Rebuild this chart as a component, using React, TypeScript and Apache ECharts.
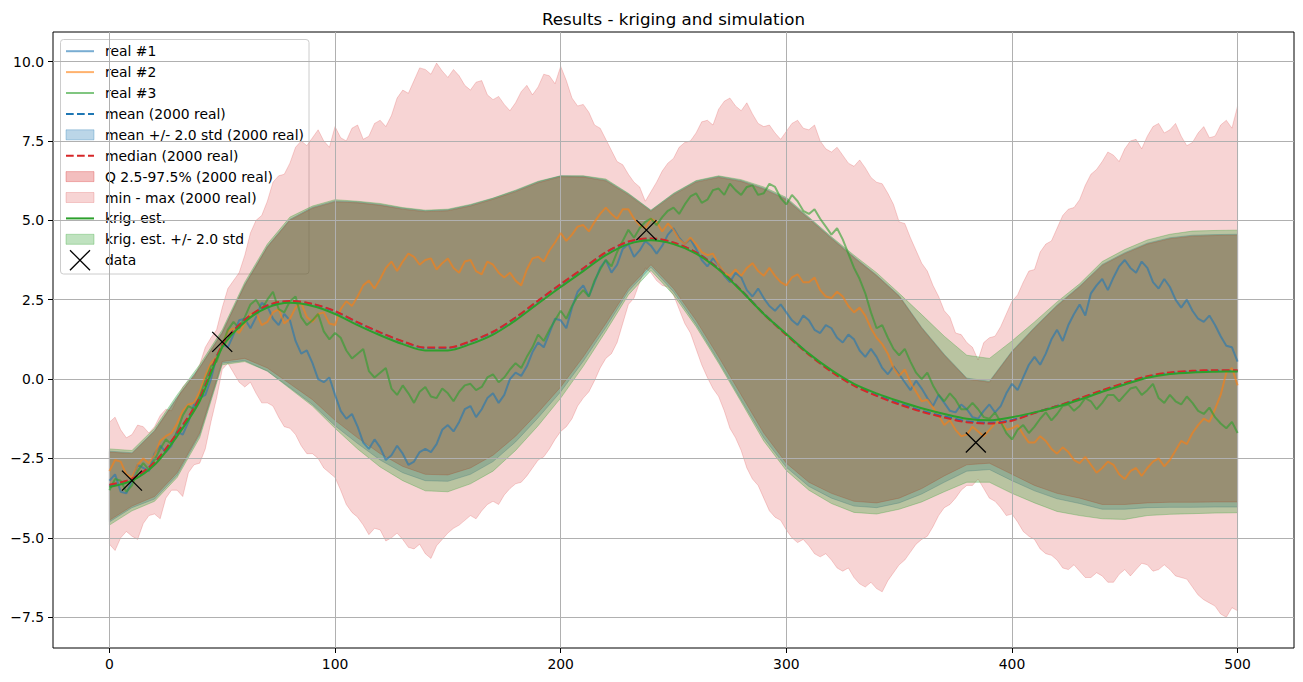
import React, { useEffect, useRef } from 'react';
import * as echarts from 'echarts';

// ---------- data ----------
// sample positions along the 0..500 domain
const xs10 = Array.from({ length: 51 }, (_, i) => i * 10);
const xs2 = Array.from({ length: 201 }, (_, i) => i * 2.5);

const xTicks = [0, 100, 200, 300, 400, 500];
const yTicks = [-7.5, -5, -2.5, 0, 2.5, 5, 7.5, 10];

// realizations: values at x = 0,5,...,500 and at x = 2.5,7.5,...,497.5
const real1 = [-3.2,-3.55,-3.2,-2.8,-2.35,-2.3,-1.65,-1.35,-0.6,0.0,
  1.1,1.4,1.9,1.95,2.3,1.7,1.85,0.8,0.5,-0.1,
  -0.5,-1.25,-1.5,-2.2,-2.15,-2.4,-2.35,-2.6,-2.2,-2.05,
  -1.45,-1.35,-0.85,-0.95,-0.45,-0.5,0.2,0.4,1.15,1.45,
  1.85,2.25,2.95,3.05,3.75,3.6,4.25,4.05,4.2,4.2,
  4.75,4.25,4.1,3.55,3.6,3.05,3.2,2.6,2.55,2.15,
  2.1,1.7,1.85,1.45,1.6,1.15,1.25,0.7,0.7,0.15,
  0.15,-0.35,-0.3,-0.85,-0.75,-1.05,-0.95,-1.25,-0.8,-0.85,
  -0.15,0.05,0.7,0.8,1.55,1.7,2.35,2.7,3.15,3.2,
  3.75,3.35,3.5,2.85,2.9,2.25,2.15,1.8,1.7,1.05,
  0.55];
const real1Mid = [-3.0,-3.6,-2.7,-2.9,-2.1,-2.1,-1.75,-0.8,-0.5,0.7,
  1.0,1.85,1.6,2.4,1.9,2.05,1.2,0.9,0.0,0.05,
  -1.0,-1.1,-2.0,-1.9,-2.55,-2.1,-2.7,-2.3,-2.3,-1.6,
  -1.65,-0.95,-1.2,-0.6,-0.75,0.0,0.1,0.85,1.0,1.9,
  1.6,2.75,2.6,3.5,3.35,4.1,3.85,4.35,3.95,4.55,
  4.45,4.4,3.75,3.8,3.25,3.35,2.8,2.85,2.3,2.35,
  1.85,2.0,1.55,1.7,1.3,1.4,0.9,0.95,0.35,0.4,
  -0.1,-0.05,-0.6,-0.5,-1.0,-0.8,-1.2,-1.0,-1.05,-0.45,
  -0.35,0.45,0.45,1.25,1.2,2.05,2.0,2.95,2.8,3.55,
  3.5,3.7,3.05,3.15,2.5,2.5,1.9,2.0,1.35,1.0];
const real2 = [-2.9,-2.6,-3.1,-2.5,-2.4,-1.8,-1.4,-0.8,-0.4,0.5,
  1.1,1.6,1.75,2.1,1.8,2.2,1.9,2.4,1.8,2.1,
  1.7,2.45,2.6,3.1,3.15,3.7,3.7,3.85,3.75,3.45,
  3.8,3.35,3.75,3.3,3.6,3.2,3.1,3.45,3.85,4.05,
  4.6,4.55,4.85,4.95,5.4,5.05,5.35,4.85,5.05,4.65,
  4.7,4.25,4.25,3.9,3.6,3.25,3.25,3.65,3.25,3.25,
  2.95,3.3,3.05,2.8,2.55,2.6,2.1,2.0,1.3,0.8,
  0.1,-0.1,-0.7,-0.9,-1.45,-1.6,-1.75,-1.65,-1.6,-1.3,
  -1.55,-1.75,-2.0,-1.95,-2.35,-2.3,-2.65,-2.7,-2.8,-2.7,
  -3.15,-2.8,-2.8,-2.5,-2.55,-1.95,-1.7,-1.25,-0.95,0.2,
  -0.2];
const real2Mid = [-2.55,-3.0,-2.7,-2.65,-1.95,-1.7,-1.0,-0.75,0.1,0.7,
  1.5,1.45,2.05,1.7,2.1,1.75,2.25,1.95,2.05,1.75,
  2.2,2.3,2.95,2.85,3.5,3.4,3.95,3.6,3.8,3.65,
  3.5,3.7,3.4,3.7,3.35,3.35,2.95,3.8,3.7,4.3,
  4.35,4.8,4.65,5.2,5.2,5.35,5.05,4.75,4.95,4.9,
  4.4,4.45,4.0,3.95,3.35,3.45,3.5,3.4,3.5,3.05,
  3.2,3.05,3.2,2.6,2.75,2.3,2.25,1.6,1.1,0.35,
  0.3,-0.4,-0.65,-1.15,-1.3,-1.8,-1.5,-1.8,-1.4,-1.6,
  -1.45,-2.0,-1.8,-2.2,-2.15,-2.55,-2.45,-2.95,-2.6,-3.0,
  -2.9,-3.05,-2.6,-2.75,-2.25,-2.05,-1.45,-1.35,-0.5,0.35];
const real3 = [-3.5,-3.2,-3.35,-2.65,-2.55,-1.9,-1.65,-0.85,-0.55,0.4,
  1.05,1.8,1.95,2.5,2.5,2.2,2.45,1.95,1.85,1.5,
  1.45,0.9,0.8,0.25,0.2,-0.3,-0.2,-0.75,-0.25,-0.6,
  -0.45,-0.4,-0.15,-0.25,0.15,0.05,0.5,0.7,1.4,1.55,
  2.15,2.3,2.8,3.1,3.75,4.0,4.7,4.75,5.05,5.1,
  5.4,5.5,5.85,5.65,6.0,6.15,5.8,6.1,5.85,6.05,
  5.5,5.6,5.2,5.05,4.55,4.4,3.5,2.7,1.6,1.3,
  0.75,0.55,0.0,-0.2,-0.7,-0.65,-0.95,-0.95,-1.25,-1.35,
  -1.9,-1.45,-1.5,-1.05,-1.1,-0.8,-0.85,-0.7,-0.75,-0.5,
  -0.5,-0.25,-0.35,-0.6,-0.5,-0.8,-0.75,-1.1,-1.2,-1.55,
  -1.7];
const real3Mid = [-3.15,-3.55,-2.9,-2.85,-2.2,-2.05,-1.15,-0.95,-0.05,0.55,
  1.55,1.6,2.35,2.2,2.75,2.1,2.6,1.7,2.05,1.25,
  1.3,0.65,0.95,0.05,0.35,-0.5,-0.45,-0.4,-0.55,-0.3,
  -0.7,-0.2,-0.35,0.05,-0.1,0.3,0.35,1.0,1.2,1.85,
  1.9,2.6,2.6,3.45,3.55,4.35,4.45,4.95,4.85,5.3,
  5.2,5.75,5.55,5.95,5.8,5.95,6.05,5.8,6.15,5.7,
  5.8,5.3,5.35,4.8,4.75,3.95,3.15,2.1,1.7,0.95,
  0.95,0.2,0.2,-0.5,-0.45,-0.95,-0.75,-1.2,-1.05,-1.7,
  -1.6,-1.7,-1.25,-1.3,-0.85,-1.0,-0.6,-0.95,-0.5,-0.7,
  -0.3,-0.5,-0.15,-0.75,-0.7,-0.55,-1.0,-0.9,-1.4,-1.35];

// min / max over the 2000 realizations
const maxV = [-1.36,-1.6,-1.75,-1.5,-1.5,-0.95,-0.65,-0.05,0.45,1.3,
  2.25,3.1,3.9,5.0,5.6,6.4,6.8,7.5,7.6,7.5,
  7.95,7.5,8.0,7.65,8.15,8.3,9.1,9.4,9.75,9.95,
  9.5,9.55,9.1,9.4,8.8,8.65,8.7,9.25,9.2,9.55,
  9.85,8.85,8.65,8.0,7.55,6.85,6.45,6.05,5.9,6.55,
  6.95,7.45,7.75,8.15,8.5,8.85,8.45,8.35,7.95,7.75,
  7.8,8.15,7.85,7.5,7.15,7.05,6.7,6.65,6.2,5.85,
  4.95,4.45,3.65,2.95,2.15,1.45,1.15,0.6,1.3,1.65,
  2.45,3.05,3.45,4.25,4.75,5.35,5.65,6.45,6.85,7.05,
  7.25,7.55,7.65,8.05,7.85,7.65,7.45,7.95,7.65,8.15,
  8.6];
const maxMid = [-1.2,-1.85,-1.45,-1.7,-1.15,-1.0,-0.25,0.05,1.0,1.55,
  2.85,3.35,4.6,5.15,6.2,6.45,7.3,7.35,7.85,7.3,
  7.6,7.9,7.55,8.05,7.95,8.85,9.0,9.8,9.6,9.7,
  9.75,9.25,9.35,8.95,8.9,8.45,9.05,8.95,9.6,9.3,
  9.4,8.6,8.4,7.9,7.2,6.75,6.2,5.6,6.2,6.8,
  7.3,7.5,8.1,8.0,8.75,8.6,8.7,8.05,8.0,7.55,
  8.05,7.9,8.0,7.25,7.3,6.8,6.9,6.35,6.15,5.5,
  4.9,4.05,3.4,2.6,1.95,1.4,1.0,1.15,1.35,2.05,
  2.65,3.4,4.0,4.35,5.15,5.4,6.1,6.6,7.15,6.85,
  7.5,7.25,7.95,7.75,8.05,7.35,7.75,7.6,8.0,7.9];
const minV = [-5.2,-5.0,-4.95,-4.55,-4.25,-3.75,-3.5,-2.95,-2.65,-1.35,
  0.3,0.2,-0.25,-0.45,-0.75,-1.2,-1.55,-2.1,-2.35,-2.8,
  -3.1,-3.95,-4.35,-4.9,-4.75,-5.0,-5.05,-5.35,-5.5,-5.25,
  -4.85,-4.6,-4.3,-4.15,-3.85,-3.65,-3.3,-3.05,-2.55,-2.2,
  -1.65,-1.25,-0.6,-0.05,0.65,1.15,2.35,3.05,3.35,2.95,
  2.65,1.75,0.95,0.05,-0.55,-1.55,-2.25,-3.15,-3.75,-4.35,
  -4.75,-5.15,-5.25,-5.6,-5.7,-6.05,-6.25,-6.55,-6.6,-6.35,
  -5.85,-5.45,-5.05,-4.65,-4.05,-3.75,-3.35,-3.15,-3.75,-4.05,
  -4.25,-4.8,-5.05,-5.5,-5.7,-6.0,-6.05,-6.25,-6.2,-6.4,
  -6.0,-6.0,-5.85,-6.0,-6.0,-6.25,-6.55,-6.95,-7.15,-7.5,
  -7.3];
const minMid = [-5.4,-4.8,-5.05,-4.3,-4.4,-3.5,-3.7,-2.7,-2.2,-0.6,
  0.5,-0.1,-0.1,-0.75,-0.85,-1.5,-1.75,-2.35,-2.5,-2.95,
  -3.5,-4.2,-4.6,-4.7,-5.1,-4.85,-5.3,-5.2,-5.65,-5.05,
  -4.7,-4.45,-4.4,-3.95,-3.95,-3.45,-3.25,-2.8,-2.45,-1.9,
  -1.5,-0.85,-0.4,0.35,0.8,1.75,2.55,3.5,3.1,2.9,
  2.2,1.45,0.45,-0.3,-1.0,-1.85,-2.8,-3.35,-4.15,-4.45,
  -5.0,-5.05,-5.5,-5.5,-5.95,-5.95,-6.45,-6.4,-6.7,-6.1,
  -5.7,-5.2,-4.95,-4.3,-3.95,-3.5,-3.35,-3.45,-3.85,-4.3,
  -4.5,-4.95,-5.35,-5.55,-5.95,-5.85,-6.25,-6.1,-6.4,-6.15,
  -6.2,-5.8,-6.05,-5.85,-6.2,-6.3,-6.8,-7.05,-7.4,-7.2];

// smooth statistics at x = 0,10,...,500
const krig = [-3.4,-3.2,-2.7,-1.8,-0.7,1.0,1.8,2.25,2.4,2.3,2.05,1.7,1.38,1.1,0.9,0.9,1.1,1.4,1.85,2.38,
  2.9,3.4,3.9,4.25,4.37,4.25,3.95,3.45,2.78,2.05,1.42,0.8,0.28,-0.15,-0.45,-0.7,-0.92,-1.1,-1.25,-1.3,
  -1.2,-1.05,-0.87,-0.65,-0.4,-0.17,0.04,0.16,0.21,0.23,0.24];
const krigLow = [-4.6,-4.15,-3.85,-3.1,-1.85,0.45,0.55,0.25,-0.3,-0.85,-1.55,-2.2,-2.77,-3.2,-3.52,-3.55,-3.3,-2.9,-2.25,-1.47,
  -0.6,0.4,1.5,2.65,3.42,2.65,1.65,0.5,-0.72,-1.95,-2.88,-3.5,-3.92,-4.2,-4.25,-4.1,-3.87,-3.55,-3.25,-3.25,
  -3.6,-3.9,-4.17,-4.3,-4.4,-4.42,-4.3,-4.26,-4.24,-4.22,-4.21];
const krigHigh = [-2.2,-2.25,-1.55,-0.5,0.45,1.55,3.05,4.25,5.1,5.45,5.65,5.6,5.53,5.4,5.32,5.35,5.5,5.7,5.95,6.23,
  6.4,6.4,6.3,5.85,5.32,5.85,6.25,6.4,6.28,6.05,5.72,5.1,4.48,3.9,3.35,2.7,2.03,1.35,0.75,0.65,
  1.2,1.8,2.43,3.0,3.7,4.08,4.38,4.56,4.66,4.68,4.69];
const meanV = [-3.35,-3.15,-2.63,-1.72,-0.62,1.05,1.86,2.3,2.45,2.36,2.13,1.78,1.46,1.18,0.98,0.98,1.18,1.48,1.93,2.46,
  2.98,3.48,3.98,4.32,4.42,4.29,3.99,3.48,2.8,2.06,1.41,0.79,0.25,-0.19,-0.51,-0.77,-1.0,-1.18,-1.33,-1.38,
  -1.29,-1.06,-0.85,-0.62,-0.37,-0.14,0.07,0.19,0.24,0.26,0.26];
const medianV = [-3.33,-3.14,-2.62,-1.7,-0.6,1.06,1.87,2.32,2.46,2.37,2.14,1.79,1.47,1.19,0.99,0.99,1.19,1.49,1.94,2.47,
  2.99,3.49,3.99,4.33,4.43,4.3,3.99,3.47,2.79,2.05,1.39,0.77,0.23,-0.21,-0.53,-0.8,-1.03,-1.21,-1.36,-1.4,
  -1.31,-1.07,-0.85,-0.61,-0.35,-0.12,0.09,0.21,0.26,0.28,0.28];
const meanLow = [-4.5,-4.05,-3.78,-3.03,-1.76,0.5,0.58,0.25,-0.27,-0.8,-1.47,-2.03,-2.55,-2.95,-3.2,-3.22,-3.0,-2.6,-1.98,-1.22,
  -0.4,0.56,1.62,2.76,3.52,2.75,1.72,0.56,-0.66,-1.85,-2.78,-3.38,-3.75,-4.0,-4.05,-3.9,-3.62,-3.25,-2.9,-2.85,
  -3.2,-3.52,-3.77,-3.92,-4.1,-4.1,-4.05,-4.04,-4.04,-4.03,-4.03];
const meanHigh = [-2.27,-2.32,-1.62,-0.57,0.38,1.48,2.98,4.18,5.03,5.41,5.61,5.58,5.5,5.38,5.3,5.33,5.48,5.69,5.93,6.21,
  6.4,6.39,6.27,5.83,5.31,5.83,6.23,6.38,6.25,6.01,5.68,5.07,4.45,3.85,3.28,2.63,1.63,0.78,0.03,-0.07,
  0.88,1.63,2.33,2.93,3.61,3.98,4.28,4.45,4.53,4.55,4.56];
const qLow = [-4.45,-4.0,-3.7,-2.95,-1.7,0.55,0.65,0.35,-0.15,-0.65,-1.3,-1.85,-2.35,-2.75,-3.0,-3.02,-2.8,-2.4,-1.8,-1.05,
  -0.25,0.7,1.75,2.85,3.6,2.85,1.85,0.7,-0.5,-1.7,-2.65,-3.25,-3.6,-3.85,-3.9,-3.75,-3.45,-3.05,-2.7,-2.65,
  -3.0,-3.35,-3.6,-3.75,-3.95,-3.95,-3.9,-3.88,-3.88,-3.87,-3.87];
const qHigh = [-2.3,-2.35,-1.65,-0.6,0.35,1.45,2.95,4.15,5.0,5.38,5.58,5.55,5.47,5.35,5.27,5.3,5.45,5.66,5.9,6.18,
  6.37,6.36,6.24,5.8,5.28,5.8,6.2,6.35,6.22,5.98,5.65,5.04,4.42,3.82,3.25,2.6,1.6,0.75,0.0,-0.1,
  0.85,1.6,2.3,2.9,3.58,3.95,4.25,4.42,4.5,4.52,4.53];

// conditioning data
const dataX = [10, 50, 238, 384];
const dataY = [-3.2, 1.17, 4.69, -2.0];

const legendLabels = [
  'real #1', 'real #2', 'real #3', 'mean (2000 real)', 'mean +/- 2.0 std (2000 real)',
  'median (2000 real)', 'Q 2.5-97.5% (2000 real)', 'min - max (2000 real)',
  'krig. est.', 'krig. est. +/- 2.0 std', 'data',
];

// ---------- helpers / styling ----------
const C_BLUE = '#1f77b4';
const C_ORANGE = '#ff7f0e';
const C_GREEN = '#2ca02c';
const C_RED = '#d62728';
const FONT = 'DejaVu Sans';
const DASH = [7.7, 3.3];

// merge values at the 5-step positions with the in-between readings
const merge = (a: number[], mid: number[]) => {
  const out: number[] = [];
  a.forEach((v, i) => {
    out.push(v);
    if (i < mid.length) out.push(mid[i]);
  });
  return out;
};
const pairs = (xs: number[], ys: number[]) => xs.map((x, i) => [x, ys[i]]);

function band(name: string, xs: number[], lo: number[], hi: number[], fill: string) {
  return {
    type: 'custom',
    name,
    z: 1,
    silent: true,
    data: [[xs[0], lo[0]]],
    renderItem: (_p: any, api: any) => {
      const pts: number[][] = [];
      for (let i = 0; i < xs.length; i++) pts.push(api.coord([xs[i], hi[i]]));
      for (let i = xs.length - 1; i >= 0; i--) pts.push(api.coord([xs[i], lo[i]]));
      return {
        type: 'polygon',
        shape: { points: pts },
        style: { fill, stroke: fill, lineWidth: 1 },
      };
    },
  };
}

function line(name: string, xs: number[], ys: number[], color: string, style: any = {}, smooth = false) {
  return {
    type: 'line',
    name,
    data: pairs(xs, ys),
    symbol: 'none',
    showSymbol: false,
    silent: true,
    z: 2,
    smooth: smooth ? 0.3 : false,
    lineStyle: { color, width: 2, ...style },
  };
}

function legendGraphic() {
  const els: any[] = [];
  els.push({
    type: 'rect',
    shape: { x: 60.5, y: 39.5, width: 248.5, height: 234.5, r: 3 },
    style: { fill: 'rgba(255,255,255,0.8)', stroke: '#cccccc', lineWidth: 1 },
  });
  const kinds: any[] = [
    { k: 'line', c: 'rgba(31,119,180,0.6)' },
    { k: 'line', c: 'rgba(255,127,14,0.6)' },
    { k: 'line', c: 'rgba(44,160,44,0.6)' },
    { k: 'dash', c: C_BLUE },
    { k: 'patch', c: 'rgba(31,119,180,0.3)' },
    { k: 'dash', c: C_RED },
    { k: 'patch', c: 'rgba(214,39,40,0.3)' },
    { k: 'patch', c: 'rgba(214,39,40,0.2)' },
    { k: 'line', c: C_GREEN },
    { k: 'patch', c: 'rgba(44,160,44,0.3)' },
    { k: 'x', c: '#000' },
  ];
  legendLabels.forEach((label, i) => {
    const y = 51.2 + i * 20.9;
    const k = kinds[i];
    if (k.k === 'line' || k.k === 'dash') {
      els.push({
        type: 'line',
        shape: { x1: 66, y1: y, x2: 94, y2: y },
        style: { stroke: k.c, lineWidth: 2, lineDash: k.k === 'dash' ? DASH : null },
      });
    } else if (k.k === 'patch') {
      els.push({
        type: 'rect',
        shape: { x: 66, y: y - 5, width: 28, height: 10 },
        style: { fill: k.c, stroke: k.c, lineWidth: 1 },
      });
    } else {
      els.push({ type: 'line', shape: { x1: 70, y1: y - 10, x2: 90, y2: y + 10 }, style: { stroke: '#000', lineWidth: 1.3 } });
      els.push({ type: 'line', shape: { x1: 70, y1: y + 10, x2: 90, y2: y - 10 }, style: { stroke: '#000', lineWidth: 1.3 } });
    }
    els.push({
      type: 'text',
      x: 105,
      y,
      style: { text: label, fill: '#000', fontSize: 13.9, fontFamily: FONT, align: 'left', verticalAlign: 'middle' },
    });
  });
  return { type: 'group', z: 100, children: els };
}

const fmtY = (v: number) => v.toFixed(1).replace('-', '\u2212');

const option: any = {
  animation: false,
  backgroundColor: '#ffffff',
  textStyle: { fontFamily: FONT },
  grid: {
    left: 53, top: 32, right: 9, bottom: 34,
    show: true, borderColor: '#000', borderWidth: 1, backgroundColor: 'transparent',
    containLabel: false,
  },
  xAxis: {
    type: 'value', min: -25, max: 525, z: 1.5,
    axisLine: { show: false, onZero: false },
    axisTick: { show: true, inside: false, length: 5, lineStyle: { color: '#000', width: 1 }, customValues: xTicks },
    axisLabel: { customValues: xTicks, color: '#000', fontSize: 13.9, fontFamily: FONT, margin: 9, formatter: (v: number) => String(v) },
    splitLine: { show: true, lineStyle: { color: '#b0b0b0', width: 1 } },
  },
  yAxis: {
    type: 'value', min: -8.47, max: 10.93, z: 1.5,
    axisLine: { show: false, onZero: false },
    axisTick: { show: true, inside: false, length: 5, lineStyle: { color: '#000', width: 1 }, customValues: yTicks },
    axisLabel: { customValues: yTicks, color: '#000', fontSize: 13.9, fontFamily: FONT, margin: 9, formatter: fmtY },
    splitLine: { show: true, lineStyle: { color: '#b0b0b0', width: 1 } },
  },
  graphic: [
    {
      type: 'text', x: 673.5, y: 19, z: 100,
      style: { text: 'Results - kriging and simulation', fill: '#000', fontSize: 16.67, fontFamily: FONT, align: 'center', verticalAlign: 'middle' },
    },
    legendGraphic(),
  ],
  series: [
    band('mean +/- 2.0 std (2000 real)', xs10, meanLow, meanHigh, 'rgba(31,119,180,0.3)'),
    band('Q 2.5-97.5% (2000 real)', xs10, qLow, qHigh, 'rgba(214,39,40,0.3)'),
    band('min - max (2000 real)', xs2, merge(minV, minMid), merge(maxV, maxMid), 'rgba(214,39,40,0.2)'),
    band('krig. est. +/- 2.0 std', xs10, krigLow, krigHigh, 'rgba(44,160,44,0.3)'),
    line('real #1', xs2, merge(real1, real1Mid), C_BLUE, { opacity: 0.6 }),
    line('real #2', xs2, merge(real2, real2Mid), C_ORANGE, { opacity: 0.6 }),
    line('real #3', xs2, merge(real3, real3Mid), C_GREEN, { opacity: 0.6 }),
    line('mean (2000 real)', xs10, meanV, C_BLUE, { type: DASH }, true),
    line('median (2000 real)', xs10, medianV, C_RED, { type: DASH }, true),
    line('krig. est.', xs10, krig, C_GREEN, {}, true),
    {
      type: 'scatter',
      name: 'data',
      z: 3,
      silent: true,
      data: pairs(dataX, dataY),
      symbol: 'path://M0,0L20,20M20,0L0,20',
      symbolSize: 20,
      itemStyle: { color: 'rgba(0,0,0,0)', borderColor: '#000', borderWidth: 1.3, opacity: 1 },
    },
  ],
};

export default function App() {
  const ref = useRef<HTMLDivElement>(null);
  useEffect(() => {
    const chart = echarts.init(ref.current as HTMLDivElement, null, { renderer: 'svg' });
    chart.setOption(option);
    return () => chart.dispose();
  }, []);
  return (
    <div
      ref={ref}
      style={{ position: 'fixed', left: 0, top: 0, width: 1303, height: 682, background: '#fff' }}
    />
  );
}
